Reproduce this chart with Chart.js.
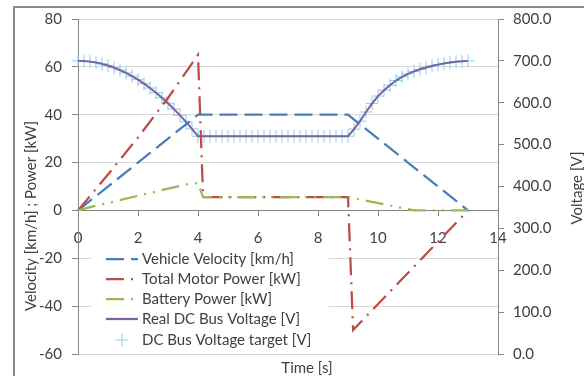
<!DOCTYPE html>
<html>
<head>
<meta charset="utf-8">
<script src="https://cdn.jsdelivr.net/npm/chart.js@4.4.1/dist/chart.umd.min.js"></script>
<style>
  html, body { margin: 0; padding: 0; background: #fff; }
  #wrap { position: relative; width: 584px; height: 376px; }
</style>
</head>
<body>
<div id="wrap"><canvas id="chart" width="584" height="376"></canvas></div>
<script>
/* ------------------ Data ------------------ */
// Vehicle velocity [km/h]
const velTime  = [0, 4, 9, 13];
const velValue = [0, 40, 40, 0];

// Total motor power [kW]
const motorTime  = [0, 1, 2, 3, 4, 4.17, 9, 9.17, 13];
const motorValue = [0, 15, 30.5, 47, 65, 5.6, 5.6, -50, 0];

// Battery power [kW]
const battTime  = [0, 0.5, 1, 2, 3, 3.7, 4, 4.17, 9, 11.2, 13];
const battValue = [0, 1.7, 3.1, 6.1, 9.1, 11.1, 11.4, 5.6, 5.6, 0, 0];

// DC bus voltage [V], sampled every 0.2 s
const voltTime = [
  0, 0.2, 0.4, 0.6, 0.8, 1, 1.2, 1.4, 1.6, 1.8,
  2, 2.2, 2.4, 2.6, 2.8, 3, 3.2, 3.4, 3.6, 3.8,
  4, 4.2, 4.4, 4.6, 4.8, 5, 5.2, 5.4, 5.6, 5.8,
  6, 6.2, 6.4, 6.6, 6.8, 7, 7.2, 7.4, 7.6, 7.8,
  8, 8.2, 8.4, 8.6, 8.8, 9, 9.2, 9.4, 9.6, 9.8,
  10, 10.2, 10.4, 10.6, 10.8, 11, 11.2, 11.4, 11.6, 11.8,
  12, 12.2, 12.4, 12.6, 12.8, 13
];
const voltReal = [
  700, 699.6, 698.2, 696, 692.8, 688.8, 683.8, 678, 671.2, 663.6,
  655, 645.6, 635.2, 624, 611.8, 598.8, 584.8, 570, 554.2, 537.6,
  520, 520, 520, 520, 520, 520, 520, 520, 520, 520,
  520, 520, 520, 520, 520, 520, 520, 520, 520, 520,
  520, 520, 520, 520, 520, 520, 537, 556, 578, 598,
  616, 630, 642, 653, 662, 669, 675, 680, 684, 688,
  691, 694, 696, 698, 699, 700
];
// target follows the real voltage in the picture
const voltTarget = voltReal;

const seriesLabels = [
  'Vehicle Velocity [km/h]',
  'Total Motor Power [kW]',
  'Battery Power [kW]',
  'Real DC Bus Voltage [V]',
  'DC Bus Voltage target [V]'
];

/* ------------------ Styles ------------------ */
const FONT = 'Lato, "Open Sans", sans-serif';
const TXT  = '#404040';
const AXIS = '#868686';
const GRID = '#d9d9d9';

const C_VEL   = '#4a7ebb';
const C_MOTOR = '#be4b48';
const C_BATT  = '#98b954';
const C_REAL  = '#7d60a0';
const C_TGT   = '#8ccfe6';

const DASH_VEL   = [18, 7];
const DASH_MOTOR = [18, 7, 2, 7];
const DASH_BATT  = [18, 7, 2, 7, 2, 7];

const pts = (xs, ys) => xs.map((x, i) => ({ x, y: ys[i] }));

/* ------------------ Frame, titles, legend ------------------ */
const extras = {
  id: 'extras',
  beforeDraw(chart) {
    const ctx = chart.ctx;
    ctx.save();
    ctx.fillStyle = '#fff';
    ctx.fillRect(0, 0, chart.width, chart.height);
    ctx.restore();
  },
  afterDraw(chart) {
    const ctx = chart.ctx;
    ctx.save();

    // outer frame (runs off the right / bottom edge)
    ctx.strokeStyle = '#8c8c8c';
    ctx.lineWidth = 2;
    ctx.strokeRect(14, 7, 700, 500);

    // axis titles
    ctx.fillStyle = TXT;
    ctx.font = '15px ' + FONT;
    ctx.textAlign = 'center';
    ctx.textBaseline = 'middle';
    ctx.fillText('Time [s]', 307, 368);

    ctx.save();
    ctx.translate(31, 216);
    ctx.rotate(-Math.PI / 2);
    ctx.fillText('Velocity [km/h] ; Power [kW]', 0, 0);
    ctx.restore();

    ctx.save();
    ctx.translate(577, 188);
    ctx.rotate(-Math.PI / 2);
    ctx.fillText('Voltage [V]', 0, 0);
    ctx.restore();

    // legend box inside the plot
    ctx.fillStyle = '#fff';
    ctx.fillRect(91, 247, 238, 105);

    const rows = [259, 279, 299, 319, 340];
    const styles = [
      { c: C_VEL, d: DASH_VEL },
      { c: C_MOTOR, d: DASH_MOTOR },
      { c: C_BATT, d: DASH_BATT },
      { c: C_REAL, d: [] }
    ];
    styles.forEach((s, i) => {
      ctx.beginPath();
      ctx.strokeStyle = s.c;
      ctx.lineWidth = 2.25;
      ctx.setLineDash(s.d);
      ctx.moveTo(106, rows[i]);
      ctx.lineTo(138, rows[i]);
      ctx.stroke();
    });
    ctx.setLineDash([]);
    ctx.beginPath();
    ctx.strokeStyle = C_TGT;
    ctx.lineWidth = 1;
    ctx.moveTo(115.5, rows[4]); ctx.lineTo(128.5, rows[4]);
    ctx.moveTo(122, rows[4] - 6.5); ctx.lineTo(122, rows[4] + 6.5);
    ctx.stroke();

    ctx.fillStyle = TXT;
    ctx.textAlign = 'left';
    seriesLabels.forEach((t, i) => ctx.fillText(t, 142, rows[i]));

    ctx.restore();
  }
};

/* ------------------ Chart ------------------ */
const tickFont = { family: FONT, size: 15 };

new Chart(document.getElementById('chart'), {
  type: 'line',
  data: {
    datasets: [
      {
        label: seriesLabels[0], data: pts(velTime, velValue), yAxisID: 'y',
        borderColor: C_VEL, borderWidth: 2.25, borderDash: DASH_VEL,
        pointRadius: 0, tension: 0, order: 3, clip: false
      },
      {
        label: seriesLabels[1], data: pts(motorTime, motorValue), yAxisID: 'y',
        borderColor: C_MOTOR, borderWidth: 2.25, borderDash: DASH_MOTOR,
        pointRadius: 0, tension: 0, order: 2, clip: false
      },
      {
        label: seriesLabels[2], data: pts(battTime, battValue), yAxisID: 'y',
        borderColor: C_BATT, borderWidth: 2.25, borderDash: DASH_BATT,
        pointRadius: 0, tension: 0, order: 1, clip: false
      },
      {
        label: seriesLabels[3], data: pts(voltTime, voltReal), yAxisID: 'y2',
        borderColor: C_REAL, borderWidth: 2, pointRadius: 0, tension: 0,
        order: 4, clip: false
      },
      {
        label: seriesLabels[4], data: pts(voltTime, voltTarget), yAxisID: 'y2',
        showLine: false, pointStyle: 'cross', pointRadius: 6.5,
        pointBorderWidth: 1, pointBorderColor: C_TGT, borderColor: C_TGT,
        order: 5, clip: false
      }
    ]
  },
  options: {
    responsive: false,
    devicePixelRatio: 1,
    animation: false,
    layout: { padding: { left: 0, right: 0, top: 16, bottom: 22 } },
    plugins: { legend: { display: false }, tooltip: { enabled: false } },
    scales: {
      x: {
        type: 'linear', min: 0, max: 14,
        position: { y: 0 },
        ticks: { stepSize: 2, padding: 14, font: tickFont, color: TXT, maxRotation: 0 },
        grid: { drawOnChartArea: false, drawTicks: true, tickLength: 5, tickColor: AXIS },
        border: { color: AXIS, width: 1 },
        afterFit(s) { s.height = 0; }
      },
      y: {
        position: 'left', min: -60, max: 80,
        ticks: { stepSize: 20, padding: 10, font: tickFont, color: TXT },
        grid: { color: GRID, tickColor: AXIS, tickLength: 6 },
        border: { color: AXIS, width: 1 },
        afterFit(s) { s.width = 78; }
      },
      y2: {
        position: 'right', min: 0, max: 800,
        ticks: { stepSize: 100, padding: 9, font: tickFont, color: TXT,
                 callback: (v) => Number(v).toFixed(1) },
        grid: { drawOnChartArea: false, tickColor: AXIS, tickLength: 6 },
        border: { color: AXIS, width: 1 },
        afterFit(s) { s.width = 86; }
      }
    }
  },
  plugins: [extras]
});
</script>
</body>
</html>
